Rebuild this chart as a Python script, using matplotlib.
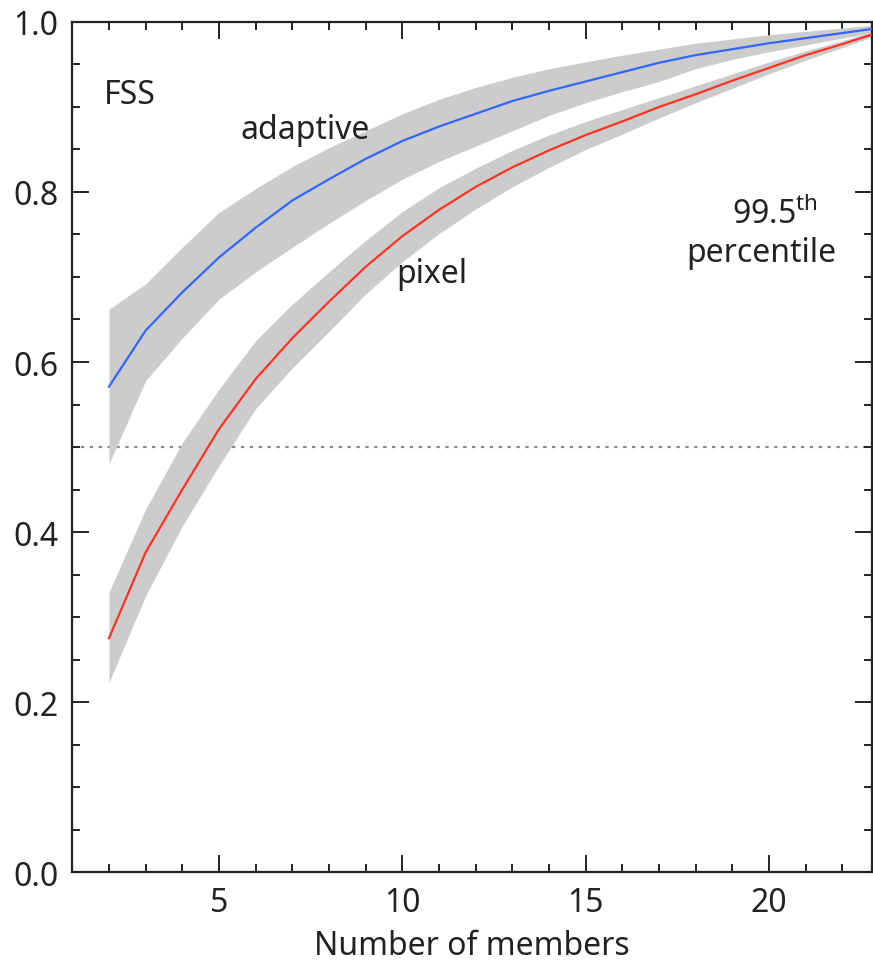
import numpy as np
import matplotlib
matplotlib.use("Agg")
import matplotlib.pyplot as plt
from matplotlib.ticker import MultipleLocator

plt.rcParams['font.family'] = ['Noto Sans', 'DejaVu Sans']
plt.rcParams['mathtext.fontset'] = 'custom'
plt.rcParams['mathtext.rm'] = 'Noto Sans'

# number of ensemble members
members = [2, 3, 4, 5, 6, 7, 8, 9, 10, 11, 12, 13, 14, 15, 16, 17, 18, 19, 20, 21, 22, 23]

# adaptive FSS (blue) and spread band
adaptive = [0.571, 0.637, 0.682, 0.723, 0.758, 0.790, 0.815, 0.839, 0.860, 0.877, 0.892,
            0.907, 0.919, 0.930, 0.941, 0.952, 0.961, 0.968, 0.975, 0.981, 0.987, 0.993]
adaptive_hi = [0.662, 0.692, 0.735, 0.776, 0.804, 0.830, 0.852, 0.872, 0.892, 0.909, 0.923,
               0.935, 0.945, 0.953, 0.961, 0.968, 0.975, 0.980, 0.985, 0.989, 0.993, 0.997]
adaptive_lo = [0.480, 0.578, 0.628, 0.674, 0.706, 0.735, 0.763, 0.790, 0.815, 0.836, 0.854,
               0.872, 0.890, 0.905, 0.918, 0.930, 0.945, 0.956, 0.965, 0.973, 0.981, 0.989]

# pixel FSS (red) and spread band
pixel = [0.275, 0.376, 0.450, 0.521, 0.580, 0.628, 0.671, 0.712, 0.748, 0.779, 0.806,
         0.829, 0.849, 0.867, 0.883, 0.900, 0.915, 0.931, 0.946, 0.961, 0.974, 0.988]
pixel_hi = [0.329, 0.427, 0.505, 0.568, 0.625, 0.668, 0.706, 0.743, 0.777, 0.805, 0.828,
            0.849, 0.867, 0.883, 0.897, 0.911, 0.925, 0.939, 0.953, 0.966, 0.978, 0.991]
pixel_lo = [0.223, 0.325, 0.407, 0.478, 0.545, 0.593, 0.636, 0.680, 0.718, 0.751, 0.780,
            0.806, 0.829, 0.850, 0.868, 0.887, 0.905, 0.922, 0.939, 0.955, 0.970, 0.985]

fig = plt.figure(figsize=(8.73, 9.62), dpi=100)
ax = fig.add_axes([0.0828, 0.0925, 0.9157, 0.8836])

txt = '#222222'
band = '#cccccc'

ax.axhline(0.5, color='#888888', lw=1.6, ls=(0, (1.5, 2.5)), zorder=1)

ax.fill_between(members, adaptive_lo, adaptive_hi, color=band, lw=0, zorder=2)
ax.fill_between(members, pixel_lo, pixel_hi, color=band, lw=0, zorder=2)
ax.plot(members, adaptive, color='#3366ff', lw=1.6, zorder=3)
ax.plot(members, pixel, color='#ff3322', lw=1.6, zorder=3)

ax.set_xlim(1, 22.8)
ax.set_ylim(0, 1)

ax.xaxis.set_major_locator(MultipleLocator(5))
ax.xaxis.set_minor_locator(MultipleLocator(1))
ax.yaxis.set_major_locator(MultipleLocator(0.2))
ax.yaxis.set_minor_locator(MultipleLocator(0.05))
ax.set_yticks([0, 0.2, 0.4, 0.6, 0.8, 1.0])
ax.set_yticklabels(['0.0', '0.2', '0.4', '0.6', '0.8', '1.0'])

ax.tick_params(which='both', direction='in', top=True, right=True, width=1.4,
               color='#222222', labelsize=23, labelcolor=txt)
ax.tick_params(which='major', length=12, pad=10)
ax.tick_params(which='minor', length=6)
for s in ax.spines.values():
    s.set_linewidth(1.6)
    s.set_color('#222222')

ax.set_xlabel('Number of members', fontsize=23, color=txt, labelpad=7)

ax.text(2.57, 0.915, 'FSS', fontsize=23, color=txt, ha='center', va='center')
ax.text(7.35, 0.874, 'adaptive', fontsize=23, color=txt, ha='center', va='center')
ax.text(10.8, 0.704, 'pixel', fontsize=23, color=txt, ha='center', va='center')
ax.text(20.15, 0.774, r'99.5$^{\mathrm{th}}$', fontsize=23, color=txt, ha='center', va='center')
ax.text(19.8, 0.729, 'percentile', fontsize=23, color=txt, ha='center', va='center')

fig.savefig('out.png', dpi=100)
